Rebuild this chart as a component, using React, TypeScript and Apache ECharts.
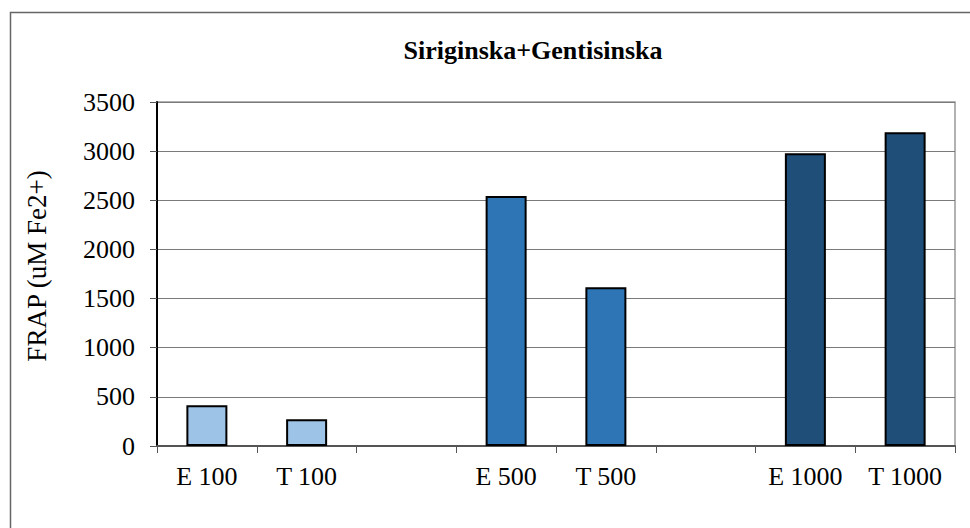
import React, { useEffect, useRef } from "react";
import * as echarts from "echarts";

const titleText = "Siriginska+Gentisinska";
const yAxisName = "FRAP (uM Fe2+)";
const categories = ["E 100", "T 100", "", "E 500", "T 500", "", "E 1000", "T 1000"];
const values: (number | null)[] = [415, 272, null, 2544, 1615, null, 2978, 3192];
const barColors = ["#9DC3E6", "#9DC3E6", "#9DC3E6", "#2E75B6", "#2E75B6", "#2E75B6", "#1F4E79", "#1F4E79"];

const FONT = "Liberation Serif";

export default function App() {
  const ref = useRef<HTMLDivElement>(null);
  useEffect(() => {
    if (!ref.current) return;
    const chart = echarts.init(ref.current, undefined, { renderer: "svg" });
    chart.setOption({
      animation: false,
      backgroundColor: "#ffffff",
      textStyle: { fontFamily: FONT },
      title: {
        text: titleText,
        left: 533,
        top: 37,
        textAlign: "center",
        padding: 0,
        textStyle: { fontFamily: FONT, fontWeight: "bold", fontSize: 26, color: "#000" },
      },
      grid: {
        left: 157,
        right: 15,
        top: 102,
        bottom: 82,
        show: true,
        borderColor: "#999999",
        borderWidth: 1.5,
        backgroundColor: "transparent",
      },
      graphic: [
        {
          type: "rect",
          left: 8,
          top: 10,
          shape: { width: 1000, height: 1000 },
          style: { fill: "none", stroke: "#666666", lineWidth: 1.5 },
          z: 0,
        },
      ],
      xAxis: {
        type: "category",
        data: categories,
        axisLine: { lineStyle: { color: "#555555", width: 2 } },
        axisTick: { show: true, alignWithLabel: false, length: 7, lineStyle: { color: "#555555", width: 1 } },
        axisLabel: { color: "#000", fontFamily: FONT, fontSize: 26, margin: 17, interval: 0 },
        splitLine: { show: false },
      },
      yAxis: {
        type: "value",
        min: 0,
        max: 3500,
        interval: 500,
        name: yAxisName,
        nameLocation: "middle",
        nameRotate: 90,
        nameGap: 107,
        nameTextStyle: {
          fontFamily: FONT,
          fontSize: 27,
          color: "#000",
          padding: [0, 0, 0, 16],
        },
        axisLine: { show: true, lineStyle: { color: "#000000", width: 2 } },
        axisTick: { show: true, length: 7, lineStyle: { color: "#555555", width: 1 } },
        axisLabel: {
          color: "#000",
          fontFamily: FONT,
          fontSize: 26,
          margin: 22,
          formatter: (v: number) => String(v),
        },
        splitLine: { show: true, lineStyle: { color: "#7a7a7a", width: 1.2 } },
      },
      series: [
        {
          type: "bar",
          barWidth: 41,
          data: values.map((v, i) => ({
            value: v,
            itemStyle: { color: barColors[i], borderColor: "#000000", borderWidth: 2 },
          })),
        },
      ],
    });
    return () => chart.dispose();
  }, []);
  return (
    <div
      ref={ref}
      style={{ position: "fixed", left: 0, top: 0, width: 970, height: 528 }}
    />
  );
}
